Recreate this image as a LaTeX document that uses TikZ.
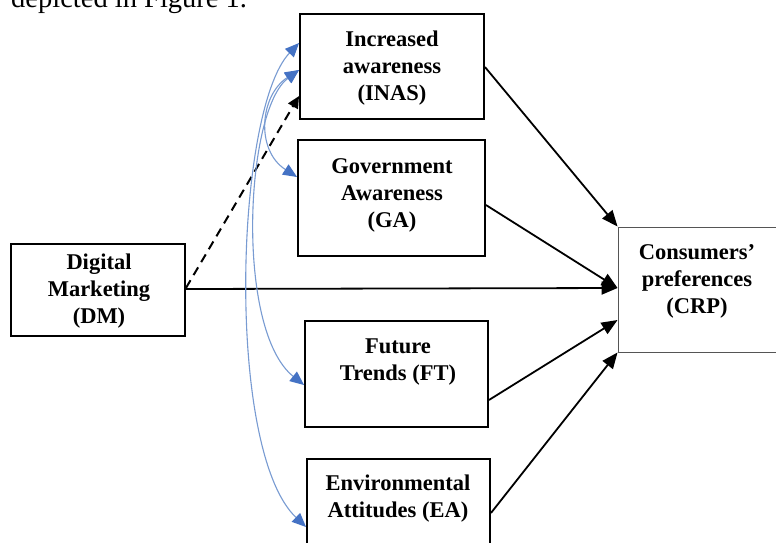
\documentclass[tikz,border=0pt]{standalone}
\usepackage{fontspec}
\setmainfont{Liberation Serif}
\usetikzlibrary{arrows.meta}
\definecolor{covblue}{RGB}{68,114,196}
\definecolor{covline}{RGB}{120,155,210}
\definecolor{thinbox}{RGB}{85,85,85}
\begin{document}
\begin{tikzpicture}[x=1pt,y=-1pt,
  box/.style={draw=black,line width=1.9pt,inner sep=0pt,fill=white},
  lbl/.style={align=center,inner sep=0pt,font=\bfseries\fontsize{22.5}{27}\selectfont},
  blk/.style={draw=black,line width=1.8pt,-{Triangle[length=16pt,width=13pt]}},
  dsh/.style={draw=black,line width=2pt,dash pattern=on 9pt off 6pt,-{Triangle[length=12pt,width=11pt]}},
  cov/.style={draw=covline,line width=1.1pt,{Triangle[length=14pt,width=12pt,color=covblue]}-{Triangle[length=14pt,width=12pt,color=covblue]}}]
\useasboundingbox (0,0) rectangle (776,542);
\clip (0,0) rectangle (776,542);
\fill[white] (0,0) rectangle (776,542);
% cut-off text line from the page
\node[anchor=base west,inner sep=0pt,font=\fontsize{28.5}{30}\selectfont] (top) at (11,7) {depicted in Figure 1.};
% boxes
\node[box,minimum width=184pt,minimum height=105pt] (inas) at (392,66.5) {};
\node[box,minimum width=187pt,minimum height=116pt] (ga) at (391.5,198) {};
\node[box,minimum width=183pt,minimum height=106pt] (ft) at (396.5,374) {};
\node[box,minimum width=183pt,minimum height=111pt] (ea) at (398.5,514.5) {};
\node[box,minimum width=174pt,minimum height=92pt] (dm) at (98,290) {};
\node[draw=thinbox,line width=0.9pt,inner sep=0pt,minimum width=182pt,minimum height=125pt] (crp) at (709,289.5) {};
% labels
\node[lbl] (inast) at (392,68) {Increased\\awareness\\(INAS)};
\node[lbl] (gat) at (392,195) {Government\\Awareness\\(GA)};
\node[lbl] (dmt) at (99,291) {Digital\\Marketing\\(DM)};
\node[lbl] (crpt) at (697,281) {Consumers’\\preferences\\(CRP)};
\node[lbl] (ftt) at (398,362.5) {Future\\Trends (FT)};
\node[lbl] (eat) at (398,498.5) {Environmental\\Attitudes (EA)};
% paths to CRP
\draw[blk] (inas.east |- 0,67) -- (crp.north west);
\draw[blk] (ga.east |- 0,205) -- (crp.west |- 0,288);
\draw[blk] (dm.east |- 0,289) -- (crp.west |- 0,288);
\draw[blk] (ft.east |- 0,400) -- (crp.west |- 0,320);
\draw[blk] (ea.east |- 0,513) -- (crp.south west);
\draw[dsh] (dm.east |- 0,288) -- (inas.west |- 0,96);
% covariances
\draw[cov] (inas.west |- 0,43) .. controls (235,110) and (225,450) .. (ea.west |- 0,527);
\draw[cov] (inas.west |- 0,70) .. controls (245,110) and (235,330) .. (ft.west |- 0,385);
\draw[cov] (inas.west |- 0,70) .. controls (260,95) and (255,150) .. (ga.west |- 0,177);
\end{tikzpicture}
\end{document}
